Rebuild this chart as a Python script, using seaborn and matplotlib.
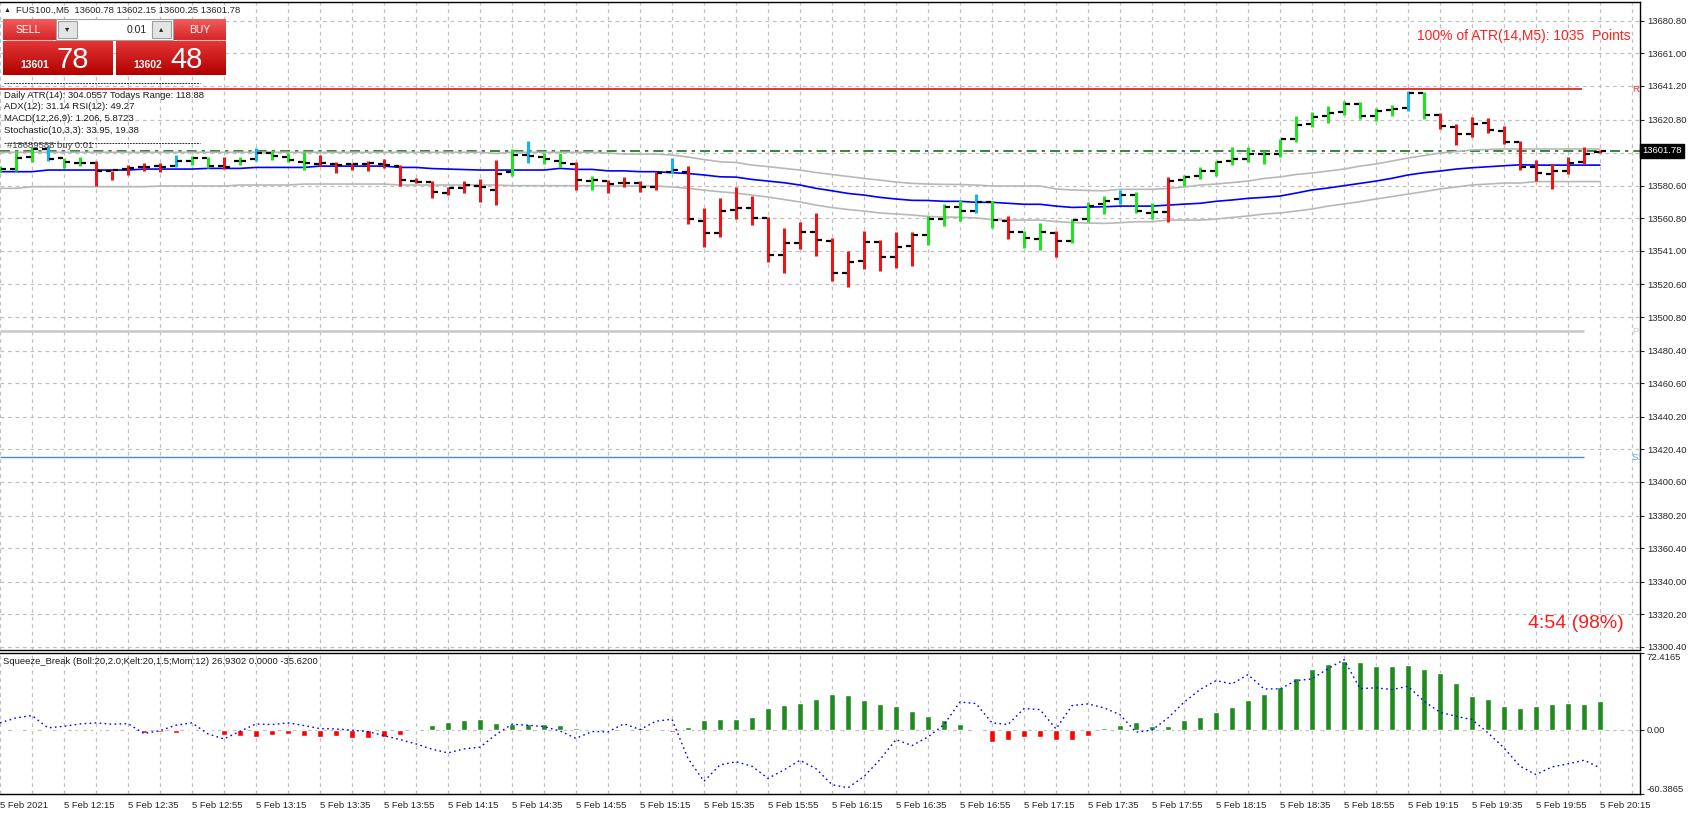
import numpy as np
import pandas as pd
import matplotlib.pyplot as plt
import seaborn as sns
from matplotlib.patches import Rectangle
from matplotlib.colors import LinearSegmentedColormap

# M5 bars of FUS100 (bar 0 = 11:55, bar 100 = 20:15)
bar_open = [
    13589.7, 13590.7, 13598.2, 13602.7, 13597.6, 13594.6, 13594.1, 13589.3, 13590.7, 13592.1,
    13592.7, 13592.7, 13595.8, 13597.6, 13592.7, 13595.4, 13596.6, 13600.6, 13598.2, 13595.0,
    13593.7, 13593.5, 13593.5, 13593.5, 13593.9, 13592.7, 13583.6, 13583.0, 13576.4, 13579.4,
    13580.4, 13578.0, 13589.1, 13599.4, 13598.2, 13595.8, 13594.0, 13583.4, 13583.4, 13582.0,
    13582.4, 13580.0, 13589.1, 13589.1, 13559.3, 13551.8, 13565.8, 13567.0, 13560.9, 13538.5,
    13545.8, 13552.4, 13547.2, 13527.5, 13534.8, 13546.6, 13537.4, 13544.1, 13550.8, 13560.5,
    13567.8, 13565.4, 13570.9, 13559.3, 13552.6, 13548.4, 13552.0, 13547.2, 13560.5, 13569.2,
    13572.7, 13575.1, 13564.2, 13564.8, 13584.2, 13586.4, 13589.7, 13595.8, 13597.0, 13600.0,
    13600.0, 13609.1, 13618.2, 13623.1, 13625.3, 13630.4, 13623.1, 13626.7, 13628.0, 13637.1,
    13623.3, 13616.4, 13612.2, 13618.9, 13614.0, 13607.3, 13592.1, 13587.7, 13589.7, 13595.2,
    13600.78]
bar_high = [
    13592.7, 13600.8, 13604.3, 13604.7, 13597.6, 13598.2, 13595.6, 13589.7, 13593.1, 13594.6,
    13594.6, 13599.4, 13598.6, 13598.2, 13598.2, 13598.2, 13603.5, 13601.6, 13600.2, 13601.2,
    13599.4, 13595.0, 13594.6, 13595.6, 13596.8, 13593.1, 13585.0, 13583.4, 13580.0, 13583.4,
    13584.4, 13596.2, 13602.9, 13607.7, 13600.2, 13600.6, 13595.2, 13586.5, 13584.0, 13585.6,
    13583.4, 13589.1, 13597.4, 13592.5, 13567.0, 13573.1, 13579.6, 13574.3, 13561.3, 13554.9,
    13558.5, 13564.0, 13548.8, 13540.9, 13553.0, 13547.6, 13552.4, 13552.4, 13562.1, 13569.4,
    13571.9, 13575.5, 13571.3, 13562.1, 13553.2, 13557.9, 13553.2, 13560.3, 13570.7, 13574.3,
    13578.0, 13576.7, 13569.9, 13585.8, 13586.9, 13591.7, 13595.6, 13603.9, 13603.9, 13601.6,
    13608.7, 13622.9, 13625.1, 13629.0, 13631.8, 13631.4, 13627.6, 13629.4, 13638.1, 13637.5,
    13624.9, 13618.0, 13622.3, 13621.7, 13616.8, 13607.7, 13596.2, 13593.7, 13598.0, 13604.1,
    13602.15]
bar_low = [
    13589.1, 13589.7, 13595.2, 13595.4, 13591.5, 13592.7, 13580.6, 13584.0, 13587.1, 13589.5,
    13588.9, 13591.7, 13593.1, 13591.5, 13590.7, 13593.3, 13595.8, 13596.2, 13595.2, 13590.1,
    13592.7, 13588.3, 13590.1, 13589.5, 13591.5, 13580.6, 13582.0, 13573.3, 13574.9, 13576.4,
    13570.9, 13568.8, 13586.5, 13594.1, 13593.7, 13591.7, 13578.0, 13578.0, 13575.9, 13580.0,
    13576.9, 13578.0, 13588.1, 13557.3, 13543.5, 13549.6, 13560.1, 13556.7, 13534.4, 13527.7,
    13542.1, 13538.1, 13522.9, 13518.8, 13530.2, 13528.9, 13530.8, 13532.0, 13544.5, 13556.3,
    13559.3, 13563.8, 13555.1, 13548.4, 13542.9, 13541.7, 13537.4, 13545.9, 13558.7, 13563.4,
    13569.4, 13564.2, 13560.3, 13558.7, 13580.6, 13584.8, 13586.6, 13593.3, 13595.2, 13594.0,
    13598.2, 13607.3, 13616.0, 13618.9, 13623.7, 13621.1, 13619.7, 13623.1, 13625.7, 13621.1,
    13615.2, 13605.5, 13610.4, 13612.8, 13606.1, 13590.3, 13583.6, 13578.4, 13587.9, 13594.0,
    13600.25]
bar_close = [
    13590.7, 13597.6, 13602.7, 13597.0, 13595.2, 13594.6, 13589.5, 13590.1, 13591.5, 13592.1,
    13592.1, 13595.4, 13597.2, 13592.7, 13592.1, 13595.8, 13600.6, 13598.6, 13596.2, 13594.6,
    13594.1, 13593.3, 13593.5, 13594.1, 13593.1, 13584.2, 13583.0, 13577.0, 13579.4, 13581.0,
    13579.6, 13587.7, 13599.4, 13598.8, 13596.8, 13594.4, 13584.0, 13584.0, 13581.6, 13582.4,
    13580.0, 13588.3, 13590.1, 13560.3, 13551.8, 13565.4, 13567.0, 13560.9, 13538.5, 13545.8,
    13552.4, 13547.8, 13527.5, 13534.4, 13546.6, 13537.4, 13543.5, 13550.8, 13560.5, 13567.8,
    13565.4, 13570.9, 13559.9, 13552.6, 13548.8, 13552.6, 13547.2, 13559.9, 13568.2, 13571.5,
    13575.1, 13565.4, 13564.8, 13583.6, 13586.0, 13589.7, 13595.2, 13596.6, 13600.0, 13600.0,
    13608.7, 13617.6, 13622.5, 13624.9, 13630.4, 13623.1, 13626.1, 13627.4, 13637.1, 13623.7,
    13617.0, 13612.2, 13618.3, 13614.4, 13607.3, 13592.1, 13588.5, 13589.7, 13594.6, 13600.0,
    13601.78]
bar_colors = [
    'g', 'g', 'g', 'b', 'g', 'g', 'r', 'r', 'r', 'r',
    'r', 'b', 'g', 'g', 'r', 'g', 'b', 'g', 'g', 'g',
    'r', 'r', 'r', 'r', 'r', 'r', 'r', 'r', 'r', 'r',
    'r', 'r', 'g', 'b', 'g', 'g', 'r', 'g', 'r', 'r',
    'r', 'r', 'b', 'r', 'r', 'r', 'r', 'r', 'r', 'r',
    'r', 'r', 'r', 'r', 'r', 'r', 'r', 'r', 'g', 'g',
    'g', 'b', 'g', 'r', 'g', 'g', 'r', 'g', 'g', 'g',
    'b', 'g', 'g', 'r', 'g', 'g', 'g', 'g', 'g', 'g',
    'g', 'g', 'g', 'g', 'g', 'g', 'g', 'g', 'b', 'g',
    'r', 'r', 'r', 'r', 'r', 'r', 'r', 'r', 'r', 'r',
    'r']

# moving average and the two grey bands
ma_mid = [
    13589.1, 13589.1, 13589.1, 13590.1, 13590.1, 13590.1, 13590.1, 13590.1, 13590.1, 13590.7,
    13590.7, 13590.7, 13590.7, 13591.1, 13591.1, 13591.1, 13591.7, 13591.7, 13591.7, 13591.7,
    13592.5, 13592.5, 13592.5, 13592.5, 13592.5, 13591.7, 13591.7, 13591.0, 13590.7, 13590.4,
    13590.1, 13590.1, 13590.1, 13590.1, 13590.1, 13591.1, 13590.5, 13590.5, 13589.6, 13589.6,
    13589.1, 13589.1, 13588.5, 13588.0, 13587.1, 13586.0, 13585.8, 13584.4, 13583.4, 13582.4,
    13581.0, 13579.0, 13577.5, 13575.9, 13574.9, 13573.5, 13572.5, 13571.7, 13571.6, 13571.1,
    13571.1, 13570.5, 13570.5, 13569.9, 13569.3, 13569.3, 13568.2, 13567.4, 13567.6, 13567.8,
    13568.2, 13568.2, 13568.2, 13568.8, 13569.4, 13569.9, 13571.1, 13571.9, 13572.9, 13573.5,
    13574.3, 13576.1, 13578.0, 13579.2, 13580.6, 13582.0, 13583.4, 13585.1, 13587.1, 13588.5,
    13589.5, 13590.7, 13591.5, 13592.1, 13592.7, 13593.3, 13593.1, 13593.1, 13593.1, 13593.1,
    13593.1]
band_up = [
    13600.9, 13600.9, 13600.9, 13600.9, 13600.9, 13600.9, 13600.9, 13600.9, 13600.9, 13600.9,
    13600.9, 13600.9, 13600.9, 13600.9, 13600.9, 13600.9, 13600.9, 13600.9, 13600.9, 13600.9,
    13600.9, 13600.9, 13600.9, 13600.9, 13600.9, 13600.9, 13600.9, 13600.9, 13600.9, 13600.9,
    13600.9, 13600.2, 13600.9, 13600.9, 13600.9, 13600.9, 13600.9, 13600.9, 13600.4, 13599.8,
    13599.8, 13599.8, 13599.2, 13598.0, 13596.5, 13595.1, 13594.7, 13593.1, 13592.2, 13591.1,
    13590.1, 13588.6, 13587.4, 13586.2, 13585.0, 13584.0, 13582.8, 13582.0, 13581.6, 13581.4,
    13581.3, 13581.0, 13580.4, 13580.4, 13580.4, 13580.4, 13578.6, 13578.0, 13577.7, 13577.5,
    13578.4, 13578.4, 13578.4, 13578.9, 13579.8, 13581.0, 13581.6, 13582.5, 13583.4, 13585.0,
    13585.9, 13587.4, 13588.3, 13589.5, 13590.7, 13592.5, 13593.8, 13595.6, 13597.4, 13598.9,
    13600.4, 13601.3, 13602.3, 13602.6, 13602.9, 13602.9, 13602.9, 13602.9, 13602.9, 13602.9,
    13602.9]
band_low = [
    13579.0, 13579.0, 13580.0, 13580.0, 13580.0, 13580.0, 13580.0, 13580.0, 13580.0, 13580.0,
    13580.4, 13580.4, 13580.4, 13580.4, 13580.4, 13581.0, 13581.0, 13581.0, 13581.0, 13581.6,
    13581.6, 13581.6, 13581.6, 13581.6, 13581.6, 13581.0, 13581.0, 13581.0, 13581.0, 13581.0,
    13581.0, 13581.0, 13580.6, 13580.6, 13580.6, 13580.6, 13580.6, 13580.6, 13580.4, 13580.4,
    13580.4, 13580.4, 13579.8, 13579.0, 13577.9, 13576.9, 13576.1, 13574.9, 13573.7, 13572.2,
    13570.7, 13568.8, 13567.3, 13566.1, 13565.2, 13564.0, 13563.4, 13562.8, 13561.9, 13561.6,
    13561.4, 13561.0, 13560.0, 13559.7, 13559.7, 13559.7, 13558.8, 13558.2, 13557.9, 13557.7,
    13558.1, 13558.7, 13558.7, 13559.7, 13559.7, 13559.7, 13560.3, 13561.3, 13562.2, 13563.4,
    13564.0, 13565.2, 13566.4, 13568.2, 13569.5, 13570.9, 13572.5, 13574.0, 13575.5, 13577.0,
    13578.6, 13579.8, 13581.0, 13581.6, 13582.2, 13582.2, 13583.1, 13583.1, 13583.1, 13583.1,
    13583.1]

# Squeeze_Break sub window: histogram and momentum (dotted)
sq_hist = [
    0.5, 0.3, 0.3, 0.5, -1.5, 0.3, -1.5, -1.5, -1.5, -2.5,
    -2.2, -2.5, -1.5, -1.5, -4.7, -5.3, -6.3, -4.7, -3.8, -5.7,
    -6.6, -5.7, -7.2, -7.5, -6.3, -4.7, 0.6, 4.7, 7.5, 9.4,
    10.7, 6.6, 5.7, 5.7, 5.7, 4.7, 2.2, 1.2, 1.2, 1.2,
    2.2, 0.6, -1.6, 3.1, 9.7, 10.6, 10.6, 12.5, 21.0, 23.8,
    25.7, 29.5, 34.2, 33.3, 28.5, 24.8, 22.9, 18.2, 13.5, 9.7,
    5.9, 0.6, -11.6, -9.1, -6.9, -6.9, -9.1, -9.1, -5.3, 2.2,
    5.0, 7.8, 4.1, 4.1, 9.7, 12.5, 17.2, 22.0, 28.5, 34.2,
    40.8, 49.3, 57.7, 62.5, 65.3, 64.3, 60.6, 60.6, 61.5, 57.7,
    54.0, 44.6, 32.3, 29.5, 22.9, 21.0, 22.9, 24.8, 25.7, 24.8,
    26.93]
sq_mom = [
    6.6, 11.3, 13.5, 1.9, 3.4, 5.6, 6.6, 5.3, 5.9, -3.5,
    -0.7, 4.4, 6.6, -3.8, -8.5, -1.3, 5.6, 5.0, 6.6, 4.1,
    1.2, 0.9, -0.3, -1.6, -5.4, -9.1, -13.2, -18.2, -21.7, -17.9,
    -16.3, -4.4, 5.3, 4.4, 3.1, -1.0, -8.0, -1.5, -1.9, 5.8,
    0.3, 8.2, 10.0, -27.0, -48.4, -33.0, -30.0, -34.2, -45.7, -37.7,
    -28.6, -36.6, -51.6, -54.5, -43.9, -28.0, -9.1, -14.8, -6.6, 5.0,
    26.3, 24.8, 6.6, 5.0, 20.1, 19.1, 0.9, 22.9, 24.5, 20.7,
    14.4, -2.2, -0.3, 11.3, 26.0, 38.0, 46.4, 43.3, 52.1, 38.6,
    38.6, 46.4, 48.0, 57.7, 66.2, 38.9, 39.6, 38.0, 41.1, 27.0,
    16.6, 12.8, 9.7, -2.8, -17.0, -34.2, -42.1, -34.9, -32.0, -28.6,
    -35.62]

price_grid = [13680.80, 13661.00, 13641.20, 13620.80, 13600.60, 13580.60, 13560.80,
              13541.00, 13520.60, 13500.80, 13480.40, 13460.60, 13440.20, 13420.40,
              13400.60, 13380.20, 13360.40, 13340.00, 13320.20, 13300.40]
price_labels = [p for p in price_grid if p != 13600.60]
time_labels = ['5 Feb 2021', '5 Feb 12:15', '5 Feb 12:35', '5 Feb 12:55', '5 Feb 13:15',
               '5 Feb 13:35', '5 Feb 13:55', '5 Feb 14:15', '5 Feb 14:35', '5 Feb 14:55',
               '5 Feb 15:15', '5 Feb 15:35', '5 Feb 15:55', '5 Feb 16:15', '5 Feb 16:35',
               '5 Feb 16:55', '5 Feb 17:15', '5 Feb 17:35', '5 Feb 17:55', '5 Feb 18:15',
               '5 Feb 18:35', '5 Feb 18:55', '5 Feb 19:15', '5 Feb 19:35', '5 Feb 19:55',
               '5 Feb 20:15']

last_price = 13601.78
r_level, pp_level, s1_level = 13639.1, 13492.3, 13415.7

df = pd.DataFrame({'open': bar_open, 'high': bar_high, 'low': bar_low,
                   'close': bar_close, 'col': bar_colors, 'ma': ma_mid,
                   'up': band_up, 'dn': band_low, 'hist': sq_hist, 'mom': sq_mom})
df['bar'] = np.arange(len(df))

sns.set_style('white')
plt.rcParams['font.family'] = ['Liberation Sans', 'DejaVu Sans']
plt.rcParams['font.size'] = 6.8

W, H = 1692, 815
def frame(l, t, r, b):
    return [l / W, 1 - b / H, (r - l) / W, (b - t) / H]

fig = plt.figure(figsize=(W / 100, H / 100), dpi=100)
fig.patch.set_facecolor('white')
ax = fig.add_axes(frame(0, 2, 1640, 650))
ax2 = fig.add_axes(frame(0, 653, 1640, 794))

grid_kw = dict(color='#c0c0c0', lw=0.9, ls=(0, (3, 3)), zorder=0)
for a in (ax, ax2):
    a.set_xlim(0, 102.5)
    for i in range(0, 103, 2):
        a.axvline(i, **grid_kw)
    for s in ('top', 'right', 'bottom'):
        a.spines[s].set_color('black')
        a.spines[s].set_linewidth(1.0)
    a.spines['left'].set_visible(False)

# main price window
ax.set_ylim(13298.5, 13692.2)
for p in price_grid:
    ax.axhline(p, **grid_kw)

ax.hlines(r_level, 0, 98.9, color='#e81010', lw=1.2, zorder=2)
ax.hlines(pp_level, 0, 99.0, color='#cccccc', lw=2.0, zorder=2)
ax.hlines(s1_level, 0, 99.0, color='#3c8ee8', lw=1.0, zorder=2)
ax.axhline(last_price, color='#1a6e1a', lw=1.2, ls=(0, (6, 3, 2, 3)), zorder=2)
ax.text(102.0, r_level, 'R1', color='#ff3030', va='center', ha='left', clip_on=True)
ax.text(102.0, pp_level, 'PP', color='#c8c8c8', va='center', ha='left', clip_on=True)
ax.text(102.0, s1_level, 'S1', color='#5aa0e6', va='center', ha='left', clip_on=True)

sns.lineplot(data=df, x='bar', y='up', ax=ax, color='#b8b8b8', lw=1.2, zorder=2)
sns.lineplot(data=df, x='bar', y='dn', ax=ax, color='#b8b8b8', lw=1.2, zorder=2)
sns.lineplot(data=df, x='bar', y='ma', ax=ax, color='#0000ff', lw=1.2, zorder=2)

palette = {'g': '#1ee61e', 'r': '#f01414', 'b': '#14b4f0'}
ax.vlines(df['bar'], df['low'], df['high'], colors=df['col'].map(palette), lw=2.2, zorder=3)
ax.hlines(df['open'], df['bar'] - 0.36, df['bar'] - 0.08, color='black', lw=1.6, zorder=4)
ax.hlines(df['close'], df['bar'] + 0.08, df['bar'] + 0.36, color='black', lw=1.6, zorder=4)

ax.set_xticks([])
ax.set_xlabel('')
ax.set_ylabel('')
ax.yaxis.tick_right()
ax.set_yticks(price_labels)
ax.set_yticklabels([f'{p:.2f}' for p in price_labels])
ax.tick_params(axis='y', direction='out', length=3, width=0.8, pad=2, labelsize=6.8)
ax.text(1.0015, last_price, f'{last_price:.2f}', transform=ax.get_yaxis_transform(),
        color='white', fontsize=6.8, va='center', ha='left',
        bbox=dict(boxstyle='square,pad=0.25', fc='black', ec='black'))
ax.text(0.9945, 0.947, '100% of ATR(14,M5): 1035  Points', transform=ax.transAxes,
        color='#ff2020', fontsize=10, ha='right', va='center')
ax.text(0.990, 0.041, '4:54 (98%)', transform=ax.transAxes,
        color='#ff1a1a', fontsize=14, ha='right', va='center')

# indicator window
ax2.set_ylim(-60.3865, 72.4165)
ax2.axhline(0, **grid_kw)
hist_cols = ['#228b22' if v > 0 else '#ff0000' for v in df['hist']]
ax2.bar(df['bar'], df['hist'], width=0.34, color=hist_cols, zorder=2)
sns.lineplot(data=df, x='bar', y='mom', ax=ax2, color='#0000ff', lw=1.0,
             linestyle=(0, (1.2, 2.4)), zorder=3)
ax2.set_xlabel('')
ax2.set_ylabel('')
ax2.yaxis.tick_right()
ax2.set_yticks([72.4165, 0, -60.3865])
ax2.set_yticklabels(['72.4165', '0.00', '-60.3865'])
ylab = ax2.get_yticklabels()
ylab[0].set_va('top')
ylab[2].set_va('bottom')
ax2.tick_params(axis='y', direction='out', length=3, width=0.8, pad=2, labelsize=6.8)
ax2.set_xticks(range(0, 101, 4))
ax2.set_xticklabels(time_labels, ha='left')
ax2.tick_params(axis='x', direction='out', length=3, width=0.8, pad=2, labelsize=6.8)

# terminal overlays (one-click trading panel, info text)
ov = fig.add_axes([0, 0, 1, 1])
ov.set_xlim(0, W)
ov.set_ylim(H, 0)
ov.axis('off')
ov.patch.set_alpha(0)

def grad_box(x0, y0, x1, y1, c_top, c_bot):
    cm = LinearSegmentedColormap.from_list('box', [c_top, c_bot])
    ov.imshow(np.linspace(0, 1, 40).reshape(-1, 1), extent=(x0, x1, y1, y0),
              cmap=cm, aspect='auto', origin='upper', zorder=2)

grad_box(3, 19, 56, 40, '#f25c5c', '#d42626')
grad_box(173, 19, 226, 40, '#f25c5c', '#d42626')
grad_box(3, 41, 113, 75, '#e43636', '#b20000')
grad_box(116, 41, 226, 75, '#e43636', '#b20000')
ov.plot([7, 52], [40, 40], color='#f8b0b0', lw=0.8, zorder=3)
ov.plot([177, 222], [40, 40], color='#f8b0b0', lw=0.8, zorder=3)
ov.add_patch(Rectangle((56, 19), 117, 21, fc='white', ec='#a0a0a0', lw=0.8, zorder=2))
ov.add_patch(Rectangle((58, 21), 19, 17, fc='#e4e4e4', ec='#a0a0a0', lw=0.8, zorder=3))
ov.add_patch(Rectangle((152, 21), 19, 17, fc='#e4e4e4', ec='#a0a0a0', lw=0.8, zorder=3))
ov.text(67.5, 30, '▾', ha='center', va='center', fontsize=6, zorder=4)
ov.text(161.5, 30, '▴', ha='center', va='center', fontsize=6, zorder=4)
ov.text(147, 30, '0.01', ha='right', va='center', fontsize=7.5, zorder=4)
ov.text(28, 30, 'SELL', ha='center', va='center', color='white', fontsize=7.5, zorder=4)
ov.text(200, 30, 'BUY', ha='center', va='center', color='white', fontsize=7.5, zorder=4)
ov.text(20, 68, '13601', ha='left', va='baseline', color='white', fontsize=7.5,
        weight='bold', zorder=4)
ov.text(57, 68, '78', ha='left', va='baseline', color='white', fontsize=21, zorder=4)
ov.text(133, 68, '13602', ha='left', va='baseline', color='white', fontsize=7.5,
        weight='bold', zorder=4)
ov.text(170, 68, '48', ha='left', va='baseline', color='white', fontsize=21, zorder=4)

ov.text(4, 10, '▲', ha='left', va='center', fontsize=5, zorder=4)
ov.text(15.5, 10, 'FUS100.,M5  13600.78 13602.15 13600.25 13601.78', ha='left',
        va='center', zorder=4)
ov.plot([4, 200], [83, 83], color='#303030', lw=0.7, ls=(0, (2, 1)), zorder=4)
ov.plot([4, 200], [143, 143], color='#303030', lw=0.7, ls=(0, (2, 1)), zorder=4)
info_lines = ['Daily ATR(14): 304.0557 Todays Range: 118.88',
              'ADX(12): 31.14 RSI(12): 49.27',
              'MACD(12,26,9): 1.206, 5.8723',
              'Stochastic(10,3,3): 33.95, 19.38']
for k, line in enumerate(info_lines):
    ov.text(4, 95 + 11.7 * k, line, ha='left', va='center', color='#1a1a1a', zorder=4)
ov.text(7, 146, '#18689588 buy 0.01', ha='left', va='center', color='#404040', zorder=4)
ov.text(3, 662, 'Squeeze_Break (Boll:20,2.0;Kelt:20,1.5;Mom:12) 26.9302 0.0000 -35.6200',
        ha='left', va='center', color='#1a1a1a', zorder=4)

fig.savefig('out.png', dpi=100)
